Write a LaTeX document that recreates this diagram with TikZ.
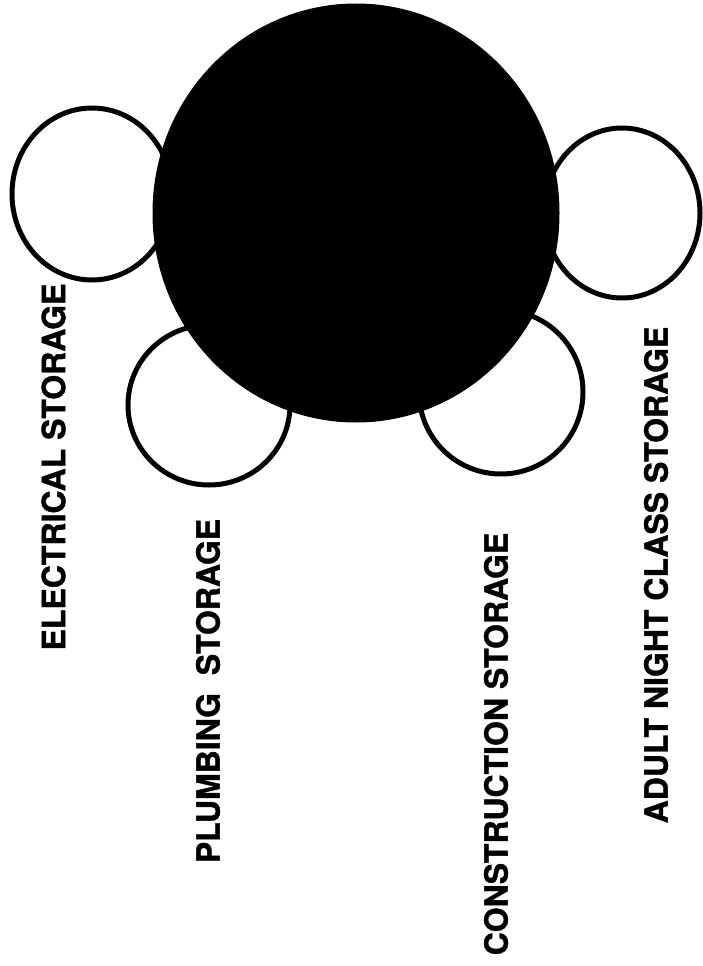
\documentclass[tikz,border=0pt]{standalone}
\usepackage{fontspec}
\setmainfont{TeX Gyre Heros}
\newfontfamily\lblfont{texgyreheros-bold.otf}[FakeBold=1.2]
\usetikzlibrary{shapes.geometric}
\begin{document}
\begin{tikzpicture}[x=1pt,y=-1pt,
  room/.style={ellipse,draw=black,line width=5pt,fill=white,inner sep=0pt},
  core/.style={ellipse,fill=black,draw=black,line width=1pt,inner sep=0pt},
  lbl/.style={rotate=90,font=\lblfont\fontsize{32}{38}\selectfont,inner sep=0pt,anchor=center}]
\useasboundingbox[fill=white] (0,0) rectangle (702,966);
\node[room,minimum width=160pt,minimum height=172pt] (elec) at (92,194) {};
\node[room,minimum width=156pt,minimum height=170pt] (adult) at (622,213) {};
\node[room,minimum width=162pt,minimum height=160pt] (plumb) at (209,405) {};
\node[room,minimum width=164pt,minimum height=164pt] (cons) at (501,392) {};
\node[core,minimum width=406pt,minimum height=418pt] (main) at (356,213) {};
\node[lbl] (telec) at (53.5,467) {ELECTRICAL STORAGE};
\node[lbl] (tplumb) at (208,691) {PLUMBING\ \ STORAGE};
\node[lbl] (tcons) at (496,744) {CONSTRUCTION STORAGE};
\node[lbl] (tadult) at (656,575) {ADULT NIGHT CLASS STORAGE};
\end{tikzpicture}
\end{document}
